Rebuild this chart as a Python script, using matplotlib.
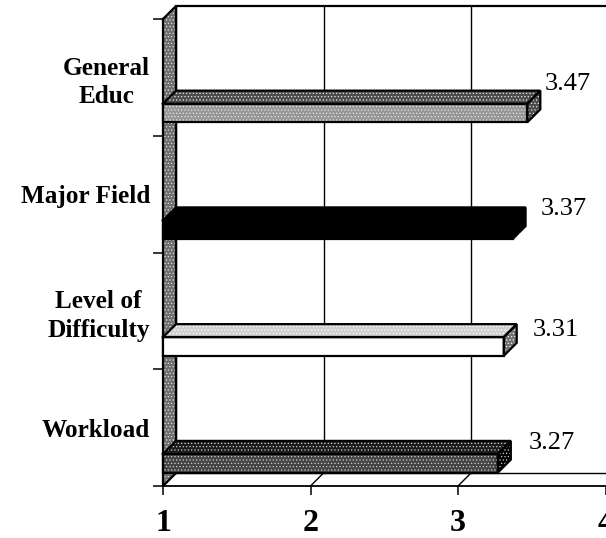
import matplotlib
matplotlib.use("Agg")
import matplotlib.pyplot as plt

categories = ["General\nEduc", "Major Field", "Level of\nDifficulty", "Workload"]
values = [3.47, 3.37, 3.31, 3.27]
x_ticks = [1, 2, 3, 4]

# front, top, side colours and the speckle on them
front_colors = ["#969696", "#000000", "#ffffff", "#444444"]
top_colors = ["#4c4c4c", "#000000", "#d0d0d0", "#1c1c1c"]
side_colors = ["#4c4c4c", "#000000", "#707070", "#000000"]
speckle = ["#e8e8e8", "#000000", "#ffffff", "#d0d0d0"]
label_offsets = [(17, 7), (28, -2), (29, -6), (31, -2)]

W, H = 606, 538
plt.rcParams["font.family"] = ["Liberation Serif", "DejaVu Serif"]
plt.rcParams["hatch.linewidth"] = 0.5

fig = plt.figure(figsize=(W / 100, H / 100), dpi=100)
ax = fig.add_axes([163 / W, 1 - 486 / H, 442.5 / W, 467 / H])
ax.set_xlim(1, 4)
ax.set_ylim(3.5, -0.5)
ax.patch.set_alpha(0)

# 13 px of depth, in data units
dx = 13 / 147.5
dy = 13 / 116.75
offset = 0.305
bar_h = 0.16


def face(xs, ys, fc, hatch_color, z=3):
    ax.fill(xs, ys, facecolor=fc, edgecolor=hatch_color, hatch="....." if hatch_color != fc else None,
            linewidth=0, zorder=z, clip_on=False)
    ax.plot(list(xs) + [xs[0]], list(ys) + [ys[0]], color="black", lw=1.6, zorder=z + 0.5,
            clip_on=False, solid_joinstyle="miter")


# back wall grid, top edge, floor
for t in x_ticks[:-1]:
    bx = t + dx
    ax.plot([bx, bx], [3.5 - dy, -0.5 - dy], color="black", lw=1, zorder=1, clip_on=False)
    ax.plot([t, bx], [3.5, 3.5 - dy], color="black", lw=1, zorder=1, clip_on=False)
ax.plot([1 + dx, 4], [-0.5 - dy, -0.5 - dy], color="black", lw=1.6, zorder=1, clip_on=False)
ax.plot([1 + dx, 4], [3.5 - dy, 3.5 - dy], color="black", lw=1, zorder=1, clip_on=False)

# left wall
face([1, 1 + dx, 1 + dx, 1], [-0.5, -0.5 - dy, 3.5 - dy, 3.5], "#6e6e6e", "#e0e0e0", z=2)

for i, v in enumerate(values):
    y0 = i + offset - bar_h / 2
    y1 = i + offset + bar_h / 2
    face([1, v, v, 1], [y0, y0, y1, y1], front_colors[i], speckle[i])
    face([1, 1 + dx, v + dx, v], [y0, y0 - dy, y0 - dy, y0], top_colors[i], speckle[i])
    face([v, v + dx, v + dx, v], [y0, y0 - dy, y1 - dy, y1], side_colors[i], speckle[i])
    ax.annotate(f"{v:.2f}", (v, y0 - dy), xytext=(label_offsets[i][0] * 0.72, label_offsets[i][1] * 0.72),
                textcoords="offset points", fontsize=19, ha="left", va="center", zorder=6)

for s in ["top", "right"]:
    ax.spines[s].set_visible(False)
ax.spines["left"].set_linewidth(1.2)
ax.spines["bottom"].set_linewidth(1.3)
ax.spines["bottom"].set_zorder(5)

ax.set_xticks(x_ticks)
ax.set_xticklabels(x_ticks, fontsize=23, fontweight="bold")
ax.tick_params(axis="x", length=6.5, width=1.1, pad=10)

ax.set_yticks([-0.5, 0.5, 1.5, 2.5, 3.5])
ax.set_yticklabels([])
ax.tick_params(axis="y", which="major", length=7, width=1.1)
ax.set_yticks(range(len(categories)), categories, minor=True, fontsize=18.2, fontweight="bold",
              multialignment="center", linespacing=1.3)
ax.tick_params(axis="y", which="minor", length=0, pad=9.4)

fig.savefig("out.png", dpi=100)
